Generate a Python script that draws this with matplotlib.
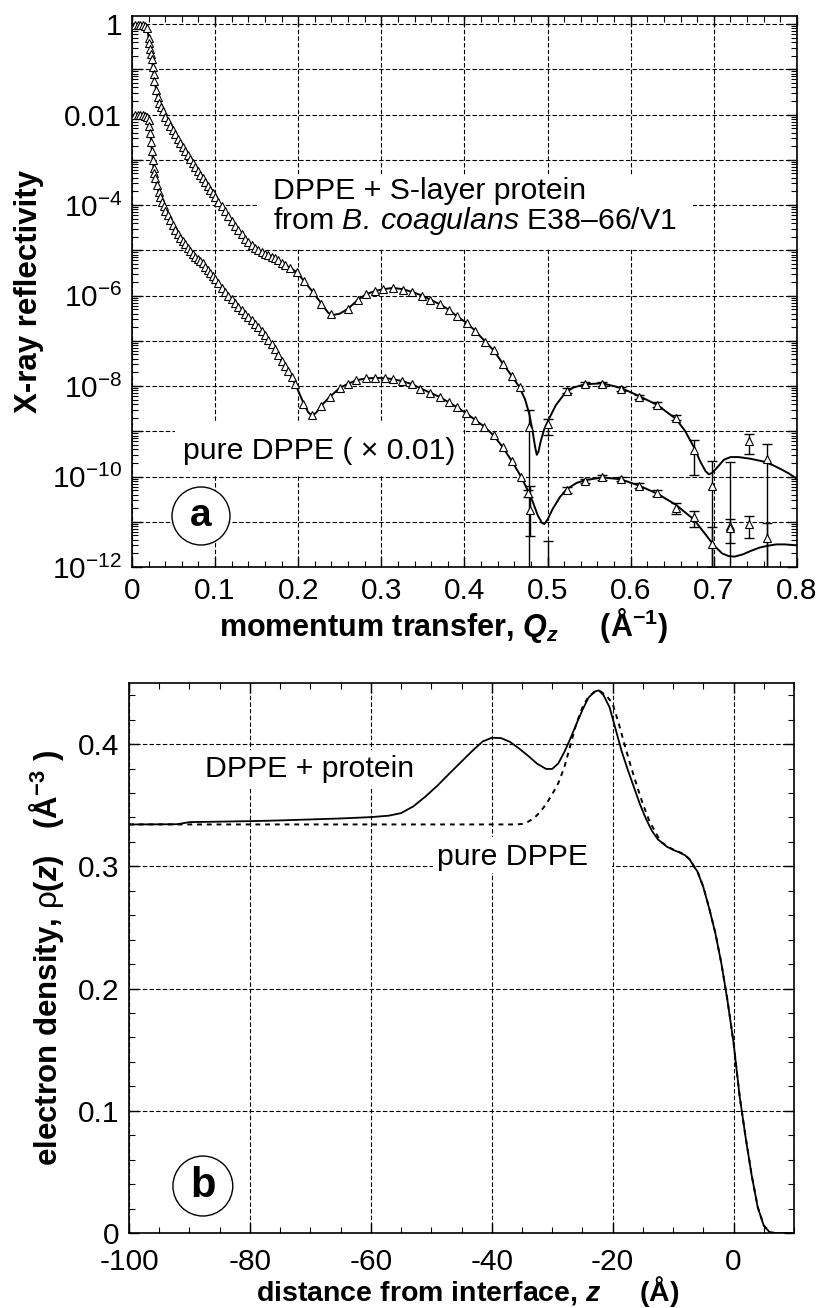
import numpy as np
import matplotlib
matplotlib.use('Agg')
import matplotlib.pyplot as plt
from matplotlib.ticker import FixedLocator, MultipleLocator, FuncFormatter, LogLocator, NullFormatter
from matplotlib.patches import Rectangle, Ellipse

plt.rcParams['font.family'] = ['Liberation Sans', 'DejaVu Sans']
plt.rcParams['mathtext.fontset'] = 'custom'
plt.rcParams['mathtext.rm'] = 'Liberation Sans'
plt.rcParams['mathtext.it'] = 'Liberation Sans:italic:bold'
plt.rcParams['mathtext.bf'] = 'Liberation Sans:bold'
plt.rcParams['mathtext.sf'] = 'Liberation Sans:italic'

# ---------------- panel a: reflectivity data (log10 R) ----------------
q_prot = [0.004, 0.007, 0.010, 0.013, 0.016, 0.018, 0.020, 0.021, 0.022, 0.023, 0.024, 0.025,
          0.026, 0.027, 0.029, 0.031, 0.033, 0.035, 0.037, 0.040, 0.043, 0.046, 0.049, 0.052,
          0.055, 0.058, 0.061, 0.064, 0.067, 0.070, 0.073, 0.076, 0.079, 0.082, 0.085, 0.088,
          0.091, 0.094, 0.097, 0.100, 0.104, 0.108, 0.112, 0.116, 0.120, 0.124, 0.128, 0.132,
          0.136, 0.140, 0.144, 0.148, 0.152, 0.156, 0.160, 0.164, 0.168, 0.172, 0.176, 0.180,
          0.184, 0.190, 0.198, 0.207, 0.218, 0.228, 0.240, 0.260, 0.272, 0.282, 0.292, 0.302,
          0.314, 0.326, 0.337, 0.349, 0.359, 0.370, 0.381, 0.391, 0.403, 0.413, 0.425, 0.435,
          0.446, 0.457, 0.467, 0.478, 0.501, 0.523, 0.545, 0.566, 0.588, 0.610, 0.632, 0.654,
          0.676, 0.698, 0.720, 0.742, 0.764]
logr_prot = [-0.01, -0.01, -0.02, -0.02, -0.04, -0.08, -0.30, -0.42, -0.55, -0.66, -0.78, -0.95,
             -1.10, -1.25, -1.45, -1.62, -1.74, -1.84, -1.93, -2.05, -2.15, -2.25, -2.35, -2.44,
             -2.53, -2.62, -2.71, -2.80, -2.89, -2.98, -3.07, -3.16, -3.24, -3.33, -3.41, -3.50,
             -3.58, -3.66, -3.74, -3.82, -3.93, -4.03, -4.14, -4.25, -4.35, -4.46, -4.56, -4.65,
             -4.74, -4.82, -4.89, -4.95, -5.00, -5.04, -5.08, -5.11, -5.14, -5.18, -5.22, -5.27,
             -5.32, -5.40, -5.49, -5.68, -5.93, -6.18, -6.41, -6.29, -6.09, -5.97, -5.90, -5.86,
             -5.83, -5.87, -5.92, -6.00, -6.09, -6.19, -6.31, -6.46, -6.61, -6.78, -7.03, -7.20,
             -7.51, -7.77, -8.03, -8.90, -8.83, -8.10, -7.96, -7.95, -8.06, -8.24, -8.41, -8.70,
             -9.42, -10.20, -11.09, -9.22, -9.61]

q_prot_fit = [0.000, 0.010, 0.018, 0.020, 0.022, 0.024, 0.027, 0.031, 0.037, 0.043, 0.052, 0.061,
              0.070, 0.082, 0.094, 0.106, 0.118, 0.130, 0.139, 0.148, 0.157, 0.166, 0.175, 0.184,
              0.198, 0.207, 0.218, 0.228, 0.236, 0.242, 0.250, 0.260, 0.272, 0.282, 0.292, 0.302,
              0.314, 0.326, 0.337, 0.349, 0.359, 0.370, 0.381, 0.391, 0.403, 0.413, 0.425, 0.435,
              0.446, 0.457, 0.466, 0.473, 0.478, 0.482, 0.485, 0.487, 0.489, 0.492, 0.496, 0.501,
              0.510, 0.520, 0.530, 0.545, 0.566, 0.588, 0.610, 0.632, 0.654, 0.665, 0.676, 0.684,
              0.690, 0.694, 0.698, 0.705, 0.712, 0.720, 0.730, 0.745, 0.760, 0.770, 0.780, 0.790,
              0.800]
logr_prot_fit = [0.00, -0.01, -0.05, -0.30, -0.55, -0.78, -1.25, -1.62, -1.93, -2.15, -2.44, -2.71,
                 -2.98, -3.33, -3.66, -3.98, -4.30, -4.61, -4.80, -4.95, -5.05, -5.12, -5.21, -5.32,
                 -5.48, -5.68, -5.93, -6.18, -6.38, -6.43, -6.40, -6.29, -6.09, -5.97, -5.90, -5.86,
                 -5.83, -5.86, -5.92, -6.00, -6.09, -6.19, -6.31, -6.46, -6.61, -6.78, -7.02, -7.21,
                 -7.50, -7.78, -8.02, -8.30, -8.62, -9.00, -9.35, -9.52, -9.45, -9.20, -8.95, -8.75,
                 -8.42, -8.18, -8.04, -7.96, -7.94, -8.04, -8.22, -8.42, -8.72, -8.98, -9.35, -9.68,
                 -9.88, -9.95, -9.92, -9.78, -9.63, -9.57, -9.57, -9.61, -9.67, -9.74, -9.83, -9.93,
                 -10.05]

# error bars (Q, lower bound, upper bound in log10 R)
q_prot_err = [0.478, 0.501, 0.523, 0.545, 0.566, 0.588, 0.610, 0.632, 0.654, 0.676, 0.698, 0.720, 0.742, 0.764]
logr_prot_err = [-8.90, -8.83, -8.10, -7.96, -7.95, -8.06, -8.24, -8.41, -8.70, -9.42, -10.20, -11.09, -9.22, -9.61]
prot_err_low = [-12.5, -9.09, -8.15, -8.00, -7.99, -8.10, -8.29, -8.47, -8.76, -9.96, -12.5, -12.5, -9.51, -12.5]
prot_err_high = [-8.53, -8.72, -8.05, -7.92, -7.91, -8.02, -8.19, -8.36, -8.64, -9.19, -9.65, -9.67, -9.06, -9.28]

q_dppe = [0.004, 0.007, 0.010, 0.013, 0.016, 0.018, 0.020, 0.021, 0.022, 0.023, 0.024, 0.025,
          0.026, 0.027, 0.028, 0.030, 0.032, 0.034, 0.036, 0.038, 0.040, 0.043, 0.046, 0.049,
          0.052, 0.055, 0.058, 0.061, 0.064, 0.067, 0.070, 0.073, 0.076, 0.079, 0.082, 0.085,
          0.088, 0.091, 0.094, 0.097, 0.100, 0.104, 0.108, 0.112, 0.116, 0.120, 0.124, 0.128,
          0.132, 0.136, 0.140, 0.144, 0.148, 0.152, 0.156, 0.160, 0.164, 0.168, 0.172, 0.176,
          0.180, 0.184, 0.188, 0.192, 0.196, 0.206, 0.217, 0.228, 0.238, 0.250, 0.260, 0.270,
          0.282, 0.292, 0.304, 0.314, 0.325, 0.337, 0.347, 0.359, 0.370, 0.381, 0.391, 0.402,
          0.413, 0.424, 0.435, 0.446, 0.457, 0.468, 0.476, 0.479, 0.500, 0.523, 0.545, 0.566,
          0.588, 0.610, 0.632, 0.654, 0.676, 0.698, 0.720, 0.742, 0.764]
logr_dppe = [-2.01, -2.01, -2.02, -2.02, -2.04, -2.06, -2.12, -2.25, -2.40, -2.60, -2.80, -3.00,
             -3.18, -3.30, -3.41, -3.56, -3.70, -3.82, -3.93, -4.03, -4.12, -4.23, -4.34, -4.45,
             -4.56, -4.65, -4.73, -4.80, -4.87, -4.94, -5.01, -5.08, -5.15, -5.20, -5.24, -5.29,
             -5.36, -5.43, -5.50, -5.57, -5.63, -5.73, -5.83, -5.92, -6.01, -6.08, -6.17, -6.25,
             -6.32, -6.40, -6.47, -6.55, -6.62, -6.70, -6.79, -6.88, -6.98, -7.08, -7.19, -7.31,
             -7.44, -7.56, -7.66, -7.80, -7.95, -8.39, -8.65, -8.43, -8.24, -8.04, -7.95, -7.87,
             -7.83, -7.82, -7.82, -7.85, -7.89, -7.96, -8.06, -8.16, -8.24, -8.36, -8.47, -8.60,
             -8.75, -8.90, -9.09, -9.35, -9.66, -10.00, -10.37, -10.75, -12.50, -10.30, -10.10, -10.02,
             -10.05, -10.20, -10.37, -10.70, -10.90, -11.49, -11.13, -11.04, -11.35]

q_dppe_fit = [0.000, 0.018, 0.020, 0.022, 0.024, 0.026, 0.028, 0.032, 0.036, 0.040, 0.046, 0.052,
              0.058, 0.064, 0.070, 0.076, 0.082, 0.088, 0.094, 0.100, 0.110, 0.120, 0.132, 0.144,
              0.156, 0.168, 0.180, 0.190, 0.198, 0.206, 0.212, 0.217, 0.222, 0.228, 0.238, 0.250,
              0.260, 0.270, 0.282, 0.295, 0.304, 0.314, 0.325, 0.337, 0.347, 0.359, 0.370, 0.381,
              0.391, 0.402, 0.413, 0.424, 0.435, 0.446, 0.457, 0.468, 0.476, 0.482, 0.488, 0.493,
              0.496, 0.500, 0.506, 0.515, 0.523, 0.535, 0.545, 0.566, 0.588, 0.610, 0.632, 0.654,
              0.676, 0.690, 0.700, 0.710, 0.718, 0.725, 0.735, 0.745, 0.755, 0.765, 0.775, 0.785,
              0.800]
logr_dppe_fit = [-2.00, -2.05, -2.15, -2.40, -2.80, -3.18, -3.41, -3.70, -3.93, -4.12, -4.34, -4.56,
                 -4.74, -4.87, -5.01, -5.15, -5.24, -5.36, -5.50, -5.63, -5.88, -6.08, -6.32, -6.55,
                 -6.79, -7.08, -7.44, -7.73, -8.02, -8.36, -8.58, -8.66, -8.58, -8.43, -8.24, -8.04,
                 -7.95, -7.87, -7.83, -7.82, -7.82, -7.85, -7.89, -7.96, -8.05, -8.15, -8.24, -8.36,
                 -8.47, -8.60, -8.75, -8.90, -9.09, -9.35, -9.66, -10.00, -10.30, -10.55, -10.85, -11.02,
                 -11.05, -10.95, -10.72, -10.45, -10.28, -10.14, -10.08, -10.02, -10.06, -10.20, -10.38, -10.62,
                 -10.95, -11.28, -11.52, -11.70, -11.76, -11.77, -11.72, -11.64, -11.57, -11.53, -11.50, -11.50,
                 -11.52]

q_dppe_err = [0.476, 0.479, 0.500, 0.523, 0.545, 0.566, 0.588, 0.610, 0.632, 0.654, 0.676, 0.698, 0.720, 0.742, 0.764]
logr_dppe_err = [-10.37, -10.75, -12.50, -10.30, -10.10, -10.02, -10.05, -10.20, -10.37, -10.70, -10.90, -11.49, -11.13, -11.04, -11.35]
dppe_err_low = [-10.45, -11.31, -12.60, -10.36, -10.15, -10.07, -10.10, -10.26, -10.44, -10.82, -11.11, -12.00, -11.47, -11.36, -12.50]
dppe_err_high = [-10.30, -10.20, -11.42, -10.24, -10.05, -9.97, -10.00, -10.14, -10.30, -10.58, -10.77, -11.12, -10.93, -10.88, -11.03]

# ---------------- panel b: electron density profiles ----------------
z_prot = [-100, -92, -90, -85, -80, -75, -70, -65, -60, -57, -55, -53, -51, -49, -47, -45, -43,
          -41.5, -40, -38.5, -37, -35.5, -34, -32.5, -31, -30, -29, -28, -27, -26, -25, -24, -23,
          -22.3, -21.5, -20.5, -19.5, -18.5, -17.5, -16.5, -15.5, -14.5, -13.5, -12.5, -11, -10,
          -9, -8, -7.2, -6.5, -6, -5, -4, -3, -2, -1, 0, 1, 2, 3, 4, 5, 6, 7, 10]
rho_prot = [0.3343, 0.3345, 0.3362, 0.3366, 0.3370, 0.3376, 0.3384, 0.3392, 0.3403, 0.3415, 0.3436,
            0.3490, 0.3570, 0.3660, 0.3760, 0.3858, 0.3955, 0.4022, 0.4052, 0.4050, 0.4019, 0.3965,
            0.3905, 0.3840, 0.3797, 0.3797, 0.3842, 0.3935, 0.4045, 0.4165, 0.4280, 0.4380, 0.4430,
            0.4440, 0.4400, 0.4300, 0.4120, 0.3940, 0.3790, 0.3650, 0.3510, 0.3390, 0.3290, 0.3220,
            0.3160, 0.3135, 0.3115, 0.3090, 0.3052, 0.2995, 0.2960, 0.2830, 0.2650, 0.2450, 0.2200,
            0.1900, 0.1555, 0.1120, 0.0780, 0.0470, 0.0210, 0.0060, 0.0005, 0.0, 0.0]

z_dppe = [-100, -36, -35, -34, -33, -32, -31, -30, -29, -28, -27, -26, -25, -24, -23, -22, -21,
          -20, -19, -18, -17, -16, -15, -14, -13, -12, -11, -10, -9, -8, -7.2, -6.5, -6, -5, -4,
          -3, -2, -1, 0, 1, 2, 3, 4, 5, 6, 7, 10]
rho_dppe = [0.3343, 0.3343, 0.3347, 0.3365, 0.3395, 0.3445, 0.3510, 0.3590, 0.3680, 0.3810, 0.3990,
            0.4170, 0.4300, 0.4390, 0.4425, 0.4432, 0.4395, 0.4330, 0.4170, 0.3990, 0.3820, 0.3660,
            0.3510, 0.3380, 0.3285, 0.3200, 0.3165, 0.3138, 0.3118, 0.3092, 0.3055, 0.2998, 0.2962,
            0.2832, 0.2652, 0.2452, 0.2202, 0.1902, 0.1557, 0.1122, 0.0782, 0.0472, 0.0212, 0.0062,
            0.0006, 0.0, 0.0]

# ---------------- figure ----------------
fig = plt.figure(figsize=(8.39, 13.08), dpi=100)
ax1 = fig.add_axes([0.1573, 0.5665, 0.7926, 0.4213])
ax2 = fig.add_axes([0.1538, 0.0573, 0.7926, 0.4205])

grid_kw = dict(color='k', linestyle=(0, (4, 2)), linewidth=0.8)
tick_fs = 21.5
lab_fs = 22
ann_fs = 21.8

def style_axes(ax):
    ax.set_axisbelow(True)
    ax.grid(True, which='major', **grid_kw)
    ax.tick_params(which='both', direction='in', top=True, right=True, labelsize=tick_fs)
    ax.tick_params(which='major', length=7, width=1.0, pad=7)
    ax.tick_params(which='minor', length=4, width=0.8)
    for sp in ax.spines.values():
        sp.set_linewidth(1.2)

# ---- panel a ----
ax1.set_yscale('log')
ax1.set_xlim(0, 0.8)
ax1.set_ylim(1e-12, 10 ** 0.18)

def pw(a):
    return 10.0 ** np.asarray(a, dtype=float)

ax1.plot(q_prot_fit, pw(logr_prot_fit), color='k', lw=1.4, zorder=3)
ax1.plot(q_dppe_fit, pw(logr_dppe_fit), color='k', lw=1.4, zorder=3)

for q, y, lo, hi in [(q_prot_err, logr_prot_err, prot_err_low, prot_err_high),
                     (q_dppe_err, logr_dppe_err, dppe_err_low, dppe_err_high)]:
    yv = pw(y)
    ax1.errorbar(q, yv, yerr=[yv - pw(lo), pw(hi) - yv], fmt='none', ecolor='k',
                 elinewidth=1.0, capsize=3.5, capthick=1.0, zorder=3)

mk = dict(ls='none', marker='^', ms=6, mfc='white', mec='k', mew=0.8, zorder=4)
ax1.plot(q_prot, pw(logr_prot), **mk)
ax1.plot(q_dppe, pw(logr_dppe), **mk)

ax1.xaxis.set_major_locator(MultipleLocator(0.1))
ax1.xaxis.set_minor_locator(MultipleLocator(0.02))
ax1.xaxis.set_major_formatter(FuncFormatter(lambda v, p: '0' if abs(v) < 1e-9 else ('%.1f' % v)))
ax1.yaxis.set_major_locator(FixedLocator([10.0 ** k for k in range(-12, 1)]))
ax1.yaxis.set_minor_locator(LogLocator(base=10, subs=range(2, 10), numticks=100))
ax1.yaxis.set_minor_formatter(NullFormatter())

def yfmt(v, p):
    k = int(round(np.log10(v)))
    if k % 2:
        return ''
    if k == 0:
        return '1'
    if k == -2:
        return '0.01'
    return r'$\mathregular{10^{%d}}$' % k

ax1.yaxis.set_major_formatter(FuncFormatter(yfmt))
style_axes(ax1)

ax1.set_ylabel('X-ray reflectivity', fontsize=22.5, fontweight='bold')
ax1.yaxis.set_label_coords(-0.132, 0.5)
ax1.set_xlabel(r'momentum transfer, $Q_z$     (Å$\mathdefault{^{-1}}$)', fontsize=lab_fs, fontweight='bold')
ax1.xaxis.set_label_coords(0.468, -0.071)

ax1.add_patch(Rectangle((0.189, 0.579), 0.655, 0.132, transform=ax1.transAxes,
                        fc='white', ec='none', zorder=1))
ax1.add_patch(Rectangle((0.065, 0.165), 0.433, 0.098, transform=ax1.transAxes,
                        fc='white', ec='none', zorder=1))
ax1.text(0.212, 0.668, 'DPPE + S-layer protein', transform=ax1.transAxes,
         fontsize=ann_fs, ha='left', va='baseline', zorder=5)
ax1.text(0.212, 0.614, r'from $\mathsf{B.\,coagulans}$ E38–66/V1', transform=ax1.transAxes,
         fontsize=ann_fs, ha='left', va='baseline', zorder=5)
ax1.text(0.0767, 0.196, 'pure DPPE ( × 0.01)', transform=ax1.transAxes,
         fontsize=ann_fs, ha='left', va='baseline', zorder=5)

ax1.add_patch(Ellipse((0.1038, 0.0926), 0.0872, 0.1053, transform=ax1.transAxes,
                      fc='white', ec='k', lw=1.0, zorder=5))
ax1.text(0.1038, 0.0926, 'a', transform=ax1.transAxes, fontsize=28, fontweight='bold',
         ha='center', va='center', zorder=6)

# ---- panel b ----
ax2.set_xlim(-100, 10)
ax2.set_ylim(0, 0.45)
ax2.plot(z_prot, rho_prot, color='k', lw=1.3, zorder=3)
ax2.plot(z_dppe, rho_dppe, color='k', lw=1.4, linestyle=(0, (2.5, 2.5)), zorder=3)

ax2.xaxis.set_major_locator(FixedLocator([-100, -80, -60, -40, -20, 0]))
ax2.xaxis.set_minor_locator(MultipleLocator(5))
ax2.xaxis.set_major_formatter(FuncFormatter(lambda v, p: '%d' % round(v)))
ax2.yaxis.set_major_locator(MultipleLocator(0.1))
ax2.yaxis.set_minor_locator(MultipleLocator(0.02))
ax2.yaxis.set_major_formatter(FuncFormatter(lambda v, p: '0' if abs(v) < 1e-9 else ('%.1f' % v)))
style_axes(ax2)
ax2.tick_params(axis='x', which='major', pad=10.5)

ax2.set_ylabel(r'electron density, $\mathrm{\rho}$($z$)   (Å$\mathdefault{^{-3}}$ )',
               fontsize=22.5, fontweight='bold')
ax2.yaxis.set_label_coords(-0.095, 0.5)
ax2.set_xlabel(r'distance from interface, $z$     (Å)', fontsize=20.5, fontweight='bold')
ax2.xaxis.set_label_coords(0.51, -0.0745)

ax2.add_patch(Rectangle((0.099, 0.811), 0.346, 0.067, transform=ax2.transAxes,
                        fc='white', ec='none', zorder=1))
ax2.add_patch(Rectangle((0.457, 0.6545), 0.27, 0.0655, transform=ax2.transAxes,
                        fc='white', ec='none', zorder=1))
ax2.text(0.1143, 0.829, 'DPPE + protein', transform=ax2.transAxes,
         fontsize=ann_fs, ha='left', va='baseline', zorder=5)
ax2.text(0.463, 0.669, 'pure DPPE', transform=ax2.transAxes,
         fontsize=ann_fs, ha='left', va='baseline', zorder=5)

ax2.add_patch(Ellipse((0.111, 0.0855), 0.090, 0.109, transform=ax2.transAxes,
                      fc='white', ec='k', lw=1.0, zorder=5))
ax2.text(0.111, 0.0855, 'b', transform=ax2.transAxes, fontsize=30, fontweight='bold',
         ha='center', va='center', zorder=6)

fig.savefig('out.png', dpi=100)
